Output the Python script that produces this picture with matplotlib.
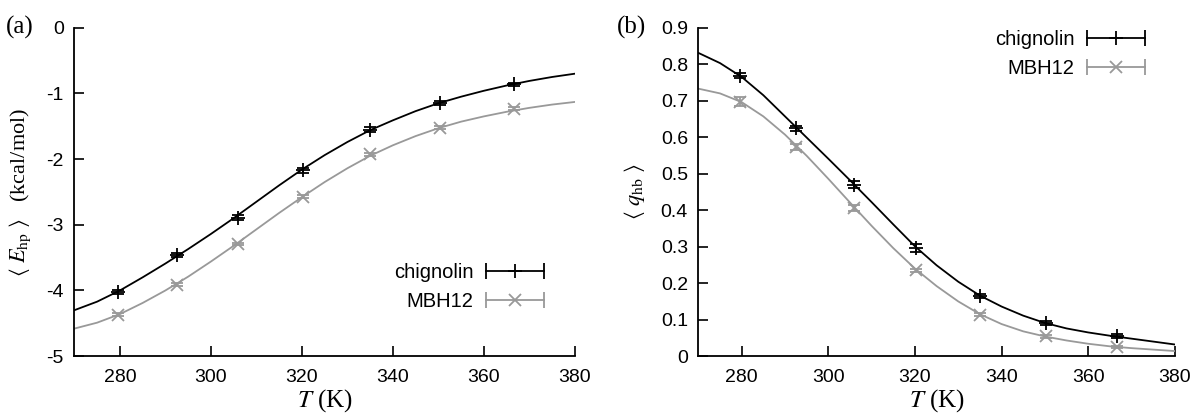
import numpy as np
import matplotlib
matplotlib.use('Agg')
import matplotlib.pyplot as plt
from matplotlib.lines import Line2D
from matplotlib.legend_handler import HandlerBase

plt.rcParams['font.family'] = ['Liberation Sans', 'DejaVu Sans']
plt.rcParams['mathtext.fontset'] = 'stix'
plt.rcParams['axes.unicode_minus'] = False

# simulation temperatures
temps = [279.6, 292.5, 305.9, 320.2, 335.0, 350.3, 366.6]

# (a) hydrophobic energy
e_chig = [-4.02, -3.46, -2.89, -2.17, -1.55, -1.15, -0.86]
e_chig_err = [0.03, 0.03, 0.04, 0.04, 0.04, 0.03, 0.02]
e_mbh = [-4.37, -3.91, -3.29, -2.57, -1.93, -1.52, -1.23]
e_mbh_err = [0.02, 0.02, 0.02, 0.02, 0.02, 0.02, 0.02]

# (b) hydrogen-bond order parameter
q_chig = [0.769, 0.624, 0.470, 0.296, 0.165, 0.090, 0.056]
q_chig_err = [0.007, 0.007, 0.010, 0.010, 0.006, 0.005, 0.005]
q_mbh = [0.697, 0.574, 0.405, 0.235, 0.114, 0.054, 0.025]
q_mbh_err = [0.012, 0.008, 0.008, 0.005, 0.005, 0.004, 0.003]

# fitted curves, every 5 K
fit_t = [270, 275, 280, 285, 290, 295, 300, 305, 310, 315, 320, 325,
         330, 335, 340, 345, 350, 355, 360, 365, 370, 375, 380]
fit_e_chig = [-4.30, -4.17, -4.00, -3.80, -3.59, -3.37, -3.14, -2.90, -2.65,
              -2.40, -2.16, -1.94, -1.74, -1.56, -1.41, -1.27, -1.15, -1.05,
              -0.96, -0.88, -0.81, -0.75, -0.70]
fit_e_mbh = [-4.58, -4.49, -4.36, -4.19, -4.00, -3.79, -3.56, -3.32, -3.07,
             -2.82, -2.58, -2.35, -2.14, -1.95, -1.79, -1.65, -1.53, -1.43,
             -1.35, -1.28, -1.22, -1.17, -1.13]
fit_q_chig = [0.831, 0.803, 0.765, 0.715, 0.657, 0.599, 0.541, 0.482, 0.422,
              0.361, 0.301, 0.249, 0.204, 0.166, 0.136, 0.111, 0.091, 0.076,
              0.065, 0.056, 0.048, 0.040, 0.032]
fit_q_mbh = [0.733, 0.720, 0.696, 0.657, 0.607, 0.549, 0.486, 0.421, 0.357,
             0.296, 0.240, 0.192, 0.150, 0.115, 0.088, 0.068, 0.054, 0.043,
             0.034, 0.027, 0.022, 0.018, 0.014]

black = '#000000'
grey = '#999999'
lw = 1.3


class HandlerHBar(HandlerBase):
    # gnuplot style key: horizontal bar with end caps and point in the middle
    def create_artists(self, legend, orig_handle, xdescent, ydescent,
                       width, height, fontsize, trans):
        c = orig_handle.get_color()
        y = height / 2 - ydescent
        x0, x1 = -xdescent, width - xdescent
        bar = Line2D([x0, x1], [y, y], color=c, lw=lw)
        caps = Line2D([x0, x1], [y, y], ls='none', marker='|', ms=11,
                      mew=lw, color=c)
        mid = Line2D([(x0 + x1) / 2], [y], ls='none',
                     marker=orig_handle.get_marker(),
                     ms=orig_handle.get_markersize(), mew=lw, color=c)
        for a in (bar, caps, mid):
            a.set_transform(trans)
        return [bar, caps, mid]


def draw(ax, fit_a, fit_b, ya, ea, yb, eb):
    ax.plot(fit_t, fit_a, color=black, lw=lw)
    ax.plot(fit_t, fit_b, color=grey, lw=lw)
    ax.errorbar(temps, ya, yerr=ea, fmt='+', color=black, ms=10, mew=lw,
                elinewidth=lw, capsize=4, capthick=lw)
    ax.errorbar(temps, yb, yerr=eb, fmt='x', color=grey, ms=8, mew=lw,
                elinewidth=lw, capsize=4, capthick=lw)
    ax.set_xlim(270, 380)
    ax.set_xticks([280, 300, 320, 340, 360, 380])
    ax.spines['top'].set_visible(False)
    ax.spines['right'].set_visible(False)
    for s in ax.spines.values():
        s.set_linewidth(1.3)
    ax.tick_params(direction='in', length=7, width=1.2, labelsize=14)
    ax.tick_params(axis='x', pad=9)
    ax.tick_params(axis='y', pad=7.5)
    ax.set_xlabel(r'$T$ (K)', family='Liberation Serif', fontsize=18,
                  labelpad=1)
    h1 = Line2D([], [], color=black, marker='+', ms=10)
    h2 = Line2D([], [], color=grey, marker='x', ms=8)
    return [h1, h2]


def key(ax, hs, loc, anchor):
    ax.legend(hs, ['chignolin', 'MBH12'], handler_map={Line2D: HandlerHBar()},
              loc=loc, bbox_to_anchor=anchor, frameon=False,
              markerfirst=False, handlelength=2.9, fontsize=14.5,
              labelspacing=0.5, handletextpad=0.6, borderpad=0,
              borderaxespad=0)


fig = plt.figure(figsize=(12, 4.2), dpi=100)
ax1 = fig.add_axes([0.062, 0.152, 0.417, 0.782])
ax2 = fig.add_axes([0.582, 0.152, 0.397, 0.782])

hs = draw(ax1, fit_e_chig, fit_e_mbh, e_chig, e_chig_err, e_mbh, e_mbh_err)
ax1.set_ylim(-5, 0)
ax1.set_yticks([0, -1, -2, -3, -4, -5])
ax1.set_ylabel(r'$\langle\ E_{\rm hp}\ \rangle$   (kcal/mol)',
               family='Liberation Serif', fontsize=16, labelpad=10)
key(ax1, hs, 'lower right', (0.9385, 0.138))

hs = draw(ax2, fit_q_chig, fit_q_mbh, q_chig, q_chig_err, q_mbh, q_mbh_err)
ax2.set_ylim(0, 0.9)
ax2.set_yticks(np.arange(0, 0.91, 0.1))
ax2.set_yticklabels(['0', '0.1', '0.2', '0.3', '0.4', '0.5', '0.6', '0.7',
                     '0.8', '0.9'])
ax2.set_ylabel(r'$\langle\ q_{\rm hb}\ \rangle$', family='Liberation Serif',
               fontsize=16, labelpad=10)
key(ax2, hs, 'upper right', (0.9375, 0.993))

fig.text(0.005, 0.935, '(a)', family='Liberation Serif', fontsize=18,
         va='center')
fig.text(0.514, 0.935, '(b)', family='Liberation Serif', fontsize=18,
         va='center')

fig.savefig('out.png', dpi=100)
